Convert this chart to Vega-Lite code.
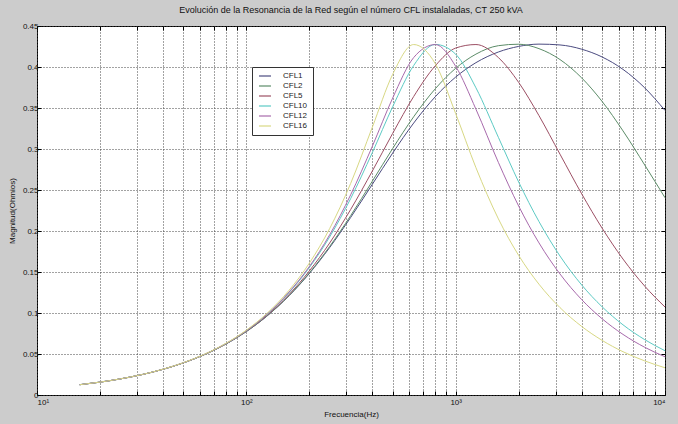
{
  "$schema": "https://vega.github.io/schema/vega-lite/v6.json",
  "width": 628,
  "height": 369,
  "autosize": {"type": "none"},
  "padding": {"left": 37, "top": 26, "right": 13, "bottom": 29},
  "background": "#cccccc",
  "config": {
    "view": {"fill": "white", "stroke": "#000000", "strokeWidth": 1},
    "font": "Liberation Sans"
  },
  "title": {
    "text": "Evolución de la Resonancia de la Red según el número CFL instalaladas, CT 250 kVA",
    "fontSize": 9,
    "fontWeight": "normal",
    "color": "#111111",
    "font": "Liberation Sans",
    "anchor": "middle",
    "offset": 7
  },
  "datasets": {
    "curves": [
      {"s":"CFL1","f":16,"z":0.01256},{"s":"CFL1","f":20,"z":0.0157},{"s":"CFL1","f":25,"z":0.01961},{"s":"CFL1","f":32,"z":0.02509},{"s":"CFL1","f":40,"z":0.03133},{"s":"CFL1","f":50,"z":0.03912},{"s":"CFL1","f":63,"z":0.04918},{"s":"CFL1","f":80,"z":0.06222},{"s":"CFL1","f":100,"z":0.07735},{"s":"CFL1","f":125,"z":0.09588},{"s":"CFL1","f":160,"z":0.121},{"s":"CFL1","f":200,"z":0.1482},{"s":"CFL1","f":250,"z":0.1798},{"s":"CFL1","f":315,"z":0.2165},{"s":"CFL1","f":400,"z":0.257},{"s":"CFL1","f":500,"z":0.295},{"s":"CFL1","f":630,"z":0.3316},{"s":"CFL1","f":800,"z":0.3639},{"s":"CFL1","f":1000,"z":0.3877},{"s":"CFL1","f":1250,"z":0.4053},{"s":"CFL1","f":1600,"z":0.4183},{"s":"CFL1","f":2000,"z":0.4251},{"s":"CFL1","f":2500,"z":0.4279},{"s":"CFL1","f":3150,"z":0.4269},{"s":"CFL1","f":4000,"z":0.4217},{"s":"CFL1","f":5000,"z":0.4123},{"s":"CFL1","f":6300,"z":0.3971},{"s":"CFL1","f":8000,"z":0.3746},{"s":"CFL1","f":10000,"z":0.347},
      {"s":"CFL2","f":16,"z":0.01256},{"s":"CFL2","f":20,"z":0.0157},{"s":"CFL2","f":25,"z":0.01962},{"s":"CFL2","f":32,"z":0.0251},{"s":"CFL2","f":40,"z":0.03134},{"s":"CFL2","f":50,"z":0.03913},{"s":"CFL2","f":63,"z":0.0492},{"s":"CFL2","f":80,"z":0.06227},{"s":"CFL2","f":100,"z":0.07745},{"s":"CFL2","f":125,"z":0.09608},{"s":"CFL2","f":160,"z":0.1213},{"s":"CFL2","f":200,"z":0.1489},{"s":"CFL2","f":250,"z":0.1811},{"s":"CFL2","f":315,"z":0.2187},{"s":"CFL2","f":400,"z":0.2608},{"s":"CFL2","f":500,"z":0.3006},{"s":"CFL2","f":630,"z":0.3393},{"s":"CFL2","f":800,"z":0.3736},{"s":"CFL2","f":1000,"z":0.3984},{"s":"CFL2","f":1250,"z":0.4157},{"s":"CFL2","f":1600,"z":0.426},{"s":"CFL2","f":2000,"z":0.4278},{"s":"CFL2","f":2500,"z":0.4224},{"s":"CFL2","f":3150,"z":0.4091},{"s":"CFL2","f":4000,"z":0.3867},{"s":"CFL2","f":5000,"z":0.3582},{"s":"CFL2","f":6300,"z":0.3221},{"s":"CFL2","f":8000,"z":0.2805},{"s":"CFL2","f":10000,"z":0.2406},
      {"s":"CFL5","f":16,"z":0.01256},{"s":"CFL5","f":20,"z":0.0157},{"s":"CFL5","f":25,"z":0.01963},{"s":"CFL5","f":32,"z":0.02511},{"s":"CFL5","f":40,"z":0.03136},{"s":"CFL5","f":50,"z":0.03917},{"s":"CFL5","f":63,"z":0.04929},{"s":"CFL5","f":80,"z":0.06244},{"s":"CFL5","f":100,"z":0.07778},{"s":"CFL5","f":125,"z":0.09671},{"s":"CFL5","f":160,"z":0.1226},{"s":"CFL5","f":200,"z":0.1513},{"s":"CFL5","f":250,"z":0.1853},{"s":"CFL5","f":315,"z":0.2262},{"s":"CFL5","f":400,"z":0.2732},{"s":"CFL5","f":500,"z":0.319},{"s":"CFL5","f":630,"z":0.364},{"s":"CFL5","f":800,"z":0.4016},{"s":"CFL5","f":1000,"z":0.4231},{"s":"CFL5","f":1250,"z":0.4274},{"s":"CFL5","f":1600,"z":0.4115},{"s":"CFL5","f":2000,"z":0.3812},{"s":"CFL5","f":2500,"z":0.3407},{"s":"CFL5","f":3150,"z":0.2937},{"s":"CFL5","f":4000,"z":0.2453},{"s":"CFL5","f":5000,"z":0.2037},{"s":"CFL5","f":6300,"z":0.1658},{"s":"CFL5","f":8000,"z":0.1328},{"s":"CFL5","f":10000,"z":0.1073},
      {"s":"CFL10","f":16,"z":0.01257},{"s":"CFL10","f":20,"z":0.01571},{"s":"CFL10","f":25,"z":0.01964},{"s":"CFL10","f":32,"z":0.02513},{"s":"CFL10","f":40,"z":0.0314},{"s":"CFL10","f":50,"z":0.03924},{"s":"CFL10","f":63,"z":0.04943},{"s":"CFL10","f":80,"z":0.06273},{"s":"CFL10","f":100,"z":0.07834},{"s":"CFL10","f":125,"z":0.09779},{"s":"CFL10","f":160,"z":0.1248},{"s":"CFL10","f":200,"z":0.1554},{"s":"CFL10","f":250,"z":0.1928},{"s":"CFL10","f":315,"z":0.2395},{"s":"CFL10","f":400,"z":0.2957},{"s":"CFL10","f":500,"z":0.3515},{"s":"CFL10","f":630,"z":0.4018},{"s":"CFL10","f":800,"z":0.4275},{"s":"CFL10","f":1000,"z":0.4156},{"s":"CFL10","f":1250,"z":0.3746},{"s":"CFL10","f":1600,"z":0.3142},{"s":"CFL10","f":2000,"z":0.2597},{"s":"CFL10","f":2500,"z":0.2115},{"s":"CFL10","f":3150,"z":0.1695},{"s":"CFL10","f":4000,"z":0.1342},{"s":"CFL10","f":5000,"z":0.1077},{"s":"CFL10","f":6300,"z":0.0856},{"s":"CFL10","f":8000,"z":0.0675},{"s":"CFL10","f":10000,"z":0.054},
      {"s":"CFL12","f":16,"z":0.01257},{"s":"CFL12","f":20,"z":0.01571},{"s":"CFL12","f":25,"z":0.01964},{"s":"CFL12","f":32,"z":0.02513},{"s":"CFL12","f":40,"z":0.03141},{"s":"CFL12","f":50,"z":0.03927},{"s":"CFL12","f":63,"z":0.04947},{"s":"CFL12","f":80,"z":0.06283},{"s":"CFL12","f":100,"z":0.07852},{"s":"CFL12","f":125,"z":0.09814},{"s":"CFL12","f":160,"z":0.1256},{"s":"CFL12","f":200,"z":0.1567},{"s":"CFL12","f":250,"z":0.1953},{"s":"CFL12","f":315,"z":0.2441},{"s":"CFL12","f":400,"z":0.3034},{"s":"CFL12","f":500,"z":0.3621},{"s":"CFL12","f":630,"z":0.4115},{"s":"CFL12","f":800,"z":0.4274},{"s":"CFL12","f":1000,"z":0.4009},{"s":"CFL12","f":1250,"z":0.3485},{"s":"CFL12","f":1600,"z":0.2836},{"s":"CFL12","f":2000,"z":0.2304},{"s":"CFL12","f":2500,"z":0.1855},{"s":"CFL12","f":3150,"z":0.1476},{"s":"CFL12","f":4000,"z":0.1163},{"s":"CFL12","f":5000,"z":0.0931},{"s":"CFL12","f":6300,"z":0.0739},{"s":"CFL12","f":8000,"z":0.0582},{"s":"CFL12","f":10000,"z":0.0466},
      {"s":"CFL16","f":16,"z":0.01257},{"s":"CFL16","f":20,"z":0.01572},{"s":"CFL16","f":25,"z":0.01965},{"s":"CFL16","f":32,"z":0.02515},{"s":"CFL16","f":40,"z":0.03145},{"s":"CFL16","f":50,"z":0.03933},{"s":"CFL16","f":63,"z":0.04961},{"s":"CFL16","f":80,"z":0.0631},{"s":"CFL16","f":100,"z":0.07905},{"s":"CFL16","f":125,"z":0.09916},{"s":"CFL16","f":160,"z":0.1277},{"s":"CFL16","f":200,"z":0.1608},{"s":"CFL16","f":250,"z":0.2029},{"s":"CFL16","f":315,"z":0.258},{"s":"CFL16","f":400,"z":0.3267},{"s":"CFL16","f":500,"z":0.391},{"s":"CFL16","f":630,"z":0.4274},{"s":"CFL16","f":800,"z":0.4039},{"s":"CFL16","f":1000,"z":0.3432},{"s":"CFL16","f":1250,"z":0.2772},{"s":"CFL16","f":1600,"z":0.2148},{"s":"CFL16","f":2000,"z":0.1702},{"s":"CFL16","f":2500,"z":0.1351},{"s":"CFL16","f":3150,"z":0.1066},{"s":"CFL16","f":4000,"z":0.0836},{"s":"CFL16","f":5000,"z":0.0667},{"s":"CFL16","f":6300,"z":0.0528},{"s":"CFL16","f":8000,"z":0.0416},{"s":"CFL16","f":10000,"z":0.0332}
    ]
  },
  "data": {"name": "curves"},
  "layer": [
    {
      "mark": {"type": "line", "interpolate": "monotone", "strokeWidth": 1, "clip": true},
      "encoding": {
        "x": {
          "field": "f", "type": "quantitative",
          "scale": {"type": "log", "domain": [10, 10000], "nice": false},
          "axis": {
            "orient": "bottom",
            "values": [10,20,30,40,50,60,70,80,90,100,200,300,400,500,600,700,800,900,1000,2000,3000,4000,5000,6000,7000,8000,9000,10000],
            "labelExpr": "datum.value == 10 ? '10¹' : datum.value == 100 ? '10²' : datum.value == 1000 ? '10³' : datum.value == 10000 ? '10⁴' : ''",
            "labelOverlap": false,
            "labelFontSize": 8,
            "labelColor": "#111111",
            "labelPadding": 7,
            "tickSize": -4,
            "tickColor": "#000000",
            "domain": false,
            "grid": true,
            "gridColor": "#444444",
            "gridDash": [1, 2],
            "gridWidth": 1,
            "title": "Frecuencia(Hz)",
            "titleFontSize": 8,
            "titleFontWeight": "normal",
            "titleColor": "#111111",
            "titlePadding": 4
          }
        },
        "y": {
          "field": "z", "type": "quantitative",
          "scale": {"domain": [0, 0.45], "nice": false, "zero": true},
          "axis": {
            "orient": "left",
            "values": [0,0.05,0.1,0.15,0.2,0.25,0.3,0.35,0.4,0.45],
            "format": "~g",
            "labelFontSize": 8,
            "labelColor": "#111111",
            "labelPadding": 3,
            "tickSize": -4,
            "tickColor": "#000000",
            "domain": false,
            "grid": true,
            "gridColor": "#444444",
            "gridDash": [1, 2],
            "gridWidth": 1,
            "title": "Magnitud(Ohmios)",
            "titleFontSize": 8,
            "titleFontWeight": "normal",
            "titleColor": "#111111",
            "titlePadding": 6
          }
        },
        "color": {
          "field": "s", "type": "nominal",
          "scale": {
            "domain": ["CFL1","CFL2","CFL5","CFL10","CFL12","CFL16"],
            "range": ["#4b4b80","#5c8c68","#9c4f64","#5ccac4","#a86aac","#d8d884"]
          },
          "legend": {
            "orient": "none",
            "legendX": 215,
            "legendY": 41,
            "title": null,
            "fillColor": "#ffffff",
            "strokeColor": "#333333",
            "padding": 5,
            "labelFontSize": 8,
            "labelColor": "#222222",
            "symbolType": "M-2,0L2,0",
            "symbolSize": 36,
            "symbolStrokeWidth": 1.2,
            "symbolOffset": 4,
            "labelOffset": 14,
            "rowPadding": 2
          }
        }
      }
    },
    {
      "mark": {"type": "point", "opacity": 0},
      "encoding": {
        "x": {
          "field": "f", "type": "quantitative",
          "scale": {"type": "log", "domain": [10, 10000], "nice": false},
          "axis": {
            "orient": "top",
            "values": [10,20,30,40,50,60,70,80,90,100,200,300,400,500,600,700,800,900,1000,2000,3000,4000,5000,6000,7000,8000,9000,10000],
            "labels": false, "grid": false, "domain": false, "title": null,
            "tickSize": -4, "tickColor": "#000000"
          }
        },
        "y": {
          "field": "z", "type": "quantitative",
          "scale": {"domain": [0, 0.45], "nice": false, "zero": true},
          "axis": {
            "orient": "right",
            "values": [0,0.05,0.1,0.15,0.2,0.25,0.3,0.35,0.4,0.45],
            "labels": false, "grid": false, "domain": false, "title": null,
            "tickSize": -4, "tickColor": "#000000"
          }
        }
      }
    }
  ],
  "resolve": {"axis": {"x": "independent", "y": "independent"}}
}
